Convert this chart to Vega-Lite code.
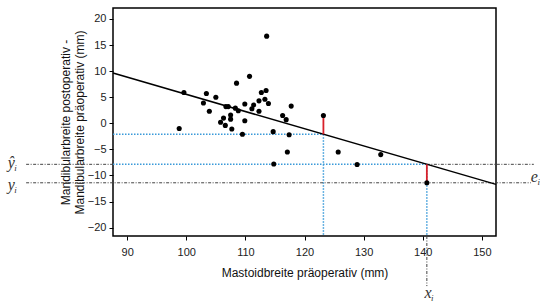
{
  "$schema": "https://vega.github.io/schema/vega-lite/v6.json",
  "width": 383,
  "height": 228,
  "autosize": {"type": "none"},
  "padding": {"left": 113, "top": 8, "right": 44, "bottom": 66},
  "background": "white",
  "config": {
    "view": {"stroke": "black", "strokeWidth": 1.5},
    "font": "Liberation Sans",
    "axis": {
      "grid": false,
      "domain": false,
      "tickColor": "black",
      "tickSize": 4,
      "labelFont": "Liberation Sans",
      "labelFontSize": 11,
      "labelColor": "#222",
      "titleFont": "Liberation Sans",
      "titleFontSize": 12,
      "titleFontWeight": "normal",
      "titleColor": "#111"
    }
  },
  "datasets": {
    "pts": [
      {"x": 98.8, "y": -1.0}, {"x": 99.6, "y": 5.9}, {"x": 102.9, "y": 3.9}, {"x": 103.4, "y": 5.7},
      {"x": 103.9, "y": 2.3}, {"x": 105.0, "y": 5.0}, {"x": 105.8, "y": 0.2}, {"x": 106.3, "y": 1.0},
      {"x": 106.6, "y": -0.4}, {"x": 106.7, "y": 3.2}, {"x": 107.1, "y": 3.2}, {"x": 107.5, "y": 0.8},
      {"x": 107.5, "y": 1.6}, {"x": 107.7, "y": -1.1}, {"x": 108.3, "y": 2.9}, {"x": 108.5, "y": 7.7},
      {"x": 108.8, "y": 2.4}, {"x": 109.5, "y": -2.1}, {"x": 109.9, "y": 3.7}, {"x": 109.9, "y": 0.5},
      {"x": 110.7, "y": 9.0}, {"x": 111.1, "y": 2.8}, {"x": 111.4, "y": 3.5}, {"x": 112.3, "y": 4.3},
      {"x": 112.3, "y": 2.3}, {"x": 112.7, "y": 5.9}, {"x": 113.3, "y": 4.6}, {"x": 113.5, "y": 6.3},
      {"x": 113.6, "y": 16.7}, {"x": 113.9, "y": 3.8}, {"x": 114.7, "y": -1.6}, {"x": 116.3, "y": 1.5},
      {"x": 116.9, "y": 0.7}, {"x": 117.4, "y": -2.2}, {"x": 117.75, "y": 3.3}, {"x": 123.2, "y": 1.5},
      {"x": 117.1, "y": -5.5}, {"x": 125.7, "y": -5.5}, {"x": 132.9, "y": -6.0}, {"x": 128.9, "y": -7.9},
      {"x": 114.8, "y": -7.8}, {"x": 140.7, "y": -11.4}
    ],
    "fit": [{"x": 87.6, "y": 9.64}, {"x": 152.4, "y": -11.71}],
    "blue": [
      {"x": 87.6, "y": -2.1, "x2": 123.2, "y2": -2.1},
      {"x": 123.2, "y": -2.1, "x2": 123.2, "y2": -21.6},
      {"x": 87.6, "y": -7.86, "x2": 140.7, "y2": -7.86},
      {"x": 140.7, "y": -7.86, "x2": 140.7, "y2": -21.6}
    ],
    "dark": [
      {"x": 72.9, "y": -7.86, "x2": 87.6, "y2": -7.86},
      {"x": 140.7, "y": -7.86, "x2": 158.8, "y2": -7.86},
      {"x": 72.9, "y": -11.4, "x2": 158.3, "y2": -11.4},
      {"x": 140.7, "y": -21.6, "x2": 140.7, "y2": -31.2}
    ],
    "red": [
      {"x": 123.2, "y": 1.5, "x2": 123.2, "y2": -2.1},
      {"x": 140.7, "y": -11.4, "x2": 140.7, "y2": -7.86}
    ],
    "labels": [
      {"x": 70.4, "y": -7.7, "t": "ŷ"},
      {"x": 70.4, "y": -11.9, "t": "y"},
      {"x": 158.9, "y": -10.2, "t": "e"},
      {"x": 140.9, "y": -32.6, "t": "x"}
    ]
  },
  "encoding": {
    "x": {"field": "x", "type": "quantitative", "scale": {"domain": [87.6, 152.4], "nice": false, "zero": false},
      "axis": {"values": [90, 100, 110, 120, 130, 140, 150], "title": "Mastoidbreite präoperativ (mm)", "titlePadding": 10, "labelPadding": 6}},
    "y": {"field": "y", "type": "quantitative", "scale": {"domain": [-21.6, 22.1], "nice": false, "zero": false},
      "axis": {"values": [-20, -15, -10, -5, 0, 5, 10, 15, 20], "title": ["Mandibularbreite postoperativ -", "Mandibularbreite präoperativ (mm)"], "titlePadding": 1, "labelPadding": 3}}
  },
  "layer": [
    {"data": {"name": "blue"}, "mark": {"type": "rule", "color": "#3a9ad9", "strokeWidth": 1.5, "strokeDash": [1.5, 1.5]},
      "encoding": {"x2": {"field": "x2"}, "y2": {"field": "y2"}}},
    {"data": {"name": "dark"}, "mark": {"type": "rule", "color": "#444", "strokeWidth": 1, "strokeDash": [3, 1.5, 1, 1.5], "clip": false},
      "encoding": {"x2": {"field": "x2"}, "y2": {"field": "y2"}}},
    {"data": {"name": "fit"}, "mark": {"type": "line", "color": "black", "strokeWidth": 1.5}},
    {"data": {"name": "red"}, "mark": {"type": "rule", "color": "#d8202a", "strokeWidth": 1.8},
      "encoding": {"x2": {"field": "x2"}, "y2": {"field": "y2"}}},
    {"data": {"name": "pts"}, "mark": {"type": "circle", "color": "black", "opacity": 1, "size": 26}},
    {"data": {"name": "labels"}, "mark": {"type": "text", "font": "Liberation Serif", "fontStyle": "italic", "fontSize": 16, "color": "#333", "align": "center", "baseline": "middle"},
      "encoding": {"text": {"field": "t"}}},
    {"data": {"name": "labels"}, "mark": {"type": "text", "font": "Liberation Serif", "fontStyle": "italic", "fontSize": 9, "color": "#333", "align": "left", "baseline": "middle", "dx": 3, "dy": 5, "text": "i"}}
  ]
}
